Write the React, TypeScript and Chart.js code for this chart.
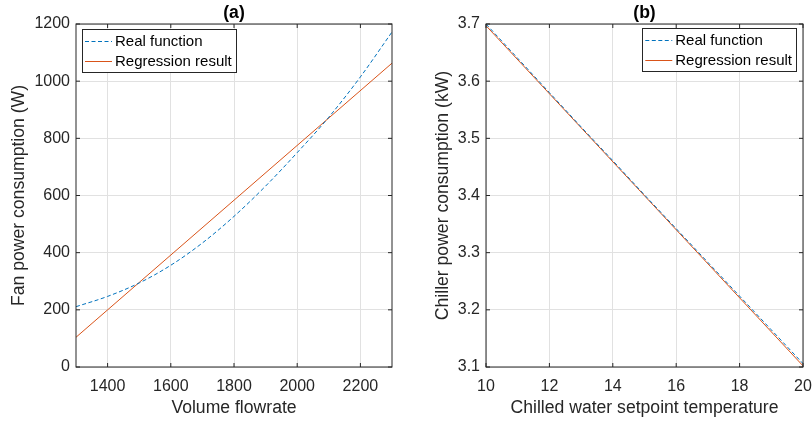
import React, { useEffect, useRef } from "react";
import { Chart, registerables } from "chart.js";

Chart.register(...registerables);

// ---------- data ----------
const FLOW = [1300, 1400, 1500, 1600, 1700, 1800, 1900, 2000, 2100, 2200, 2300];
const FAN_REAL = [211, 247, 294, 356, 434, 527, 633, 750, 874, 1015, 1172];
const FLOW_FIT = [1300, 2300];
const FAN_FIT = [104, 1063];
const FLOW_TICKS = [1400, 1600, 1800, 2000, 2200];
const FAN_TICKS = [0, 200, 400, 600, 800, 1000, 1200];

const TEMP = [10, 11, 12, 13, 14, 15, 16, 17, 18, 19, 20];
const CHILLER_REAL = [3.7, 3.64, 3.58, 3.52, 3.461, 3.401, 3.342, 3.283, 3.224, 3.165, 3.106];
const TEMP_FIT = [10, 20];
const CHILLER_FIT = [3.697, 3.102];
const TEMP_TICKS = [10, 12, 14, 16, 18, 20];
const CHILLER_TICKS = [3.1, 3.2, 3.3, 3.4, 3.5, 3.6, 3.7];

const SERIES_NAMES = ["Real function", "Regression result"];

// ---------- styles ----------
const FONT = "'Liberation Sans', Arial, Helvetica, sans-serif";
const BLUE = "#0072BD";
const ORANGE = "#D95319";
const AXIS = "#262626";
const GRID = "#e1e1e1";
const DASH = [4, 2.5];

const decorPlugin = {
  id: "matlabDecor",
  afterDatasetsDraw(chart: any, _args: any, opts: any) {
    const { ctx, chartArea } = chart;
    const { left, top, right, bottom } = chartArea;
    const xs = chart.scales.x;
    const ys = chart.scales.y;
    ctx.save();
    ctx.strokeStyle = AXIS;
    ctx.lineWidth = 1;
    const tl = 4;
    ctx.beginPath();
    xs.ticks.forEach((t: any) => {
      const px = xs.getPixelForValue(t.value);
      ctx.moveTo(px, bottom);
      ctx.lineTo(px, bottom - tl);
      ctx.moveTo(px, top);
      ctx.lineTo(px, top + tl);
    });
    ys.ticks.forEach((t: any) => {
      const py = ys.getPixelForValue(t.value);
      ctx.moveTo(left, py);
      ctx.lineTo(left + tl, py);
      ctx.moveTo(right, py);
      ctx.lineTo(right - tl, py);
    });
    ctx.stroke();
    ctx.strokeRect(left, top, right - left, bottom - top);

    // title
    ctx.fillStyle = "#000";
    ctx.font = `bold 17.6px ${FONT}`;
    ctx.textAlign = "center";
    ctx.textBaseline = "alphabetic";
    ctx.fillText(opts.title, (left + right) / 2, top - 6);
    ctx.restore();
  },
  afterDraw(chart: any, _args: any, opts: any) {
    const { ctx, chartArea } = chart;
    const { left, top, right } = chartArea;
    ctx.save();
    ctx.font = `15px ${FONT}`;
    const textW = Math.max(...SERIES_NAMES.map((n) => ctx.measureText(n).width));
    const sample = 27;
    const w = 3 + sample + 3 + textW + 4;
    const h = 43;
    const bx = opts.legendAlign === "left" ? left + 6 : right - 7 - w;
    const by = top + opts.legendTop;
    ctx.fillStyle = "#fff";
    ctx.fillRect(bx, by, w, h);
    ctx.strokeStyle = AXIS;
    ctx.lineWidth = 1;
    ctx.strokeRect(Math.round(bx) + 0.5, Math.round(by) + 0.5, Math.round(w), h);
    const rows = [by + 12.5, by + 32.5];
    const colors = [BLUE, ORANGE];
    rows.forEach((ry, i) => {
      ctx.beginPath();
      ctx.strokeStyle = colors[i];
      ctx.lineWidth = 1;
      ctx.setLineDash(i === 0 ? DASH : []);
      ctx.moveTo(bx + 3, ry);
      ctx.lineTo(bx + 3 + sample, ry);
      ctx.stroke();
      ctx.setLineDash([]);
      ctx.fillStyle = "#000";
      ctx.textAlign = "left";
      ctx.textBaseline = "middle";
      ctx.fillText(SERIES_NAMES[i], bx + 3 + sample + 3, ry + 0.5);
    });
    ctx.restore();
  },
};

function makeConfig(p: {
  xs: number[];
  real: number[];
  xfit: number[];
  fit: number[];
  xmin: number;
  xmax: number;
  ymin: number;
  ymax: number;
  xticks: number[];
  yticks: number[];
  xlabel: string;
  ylabel: string;
  title: string;
  legendAlign: string;
  legendTop: number;
  yWidth: number;
  yTitlePad: number;
  rightPad: number;
  yFmt: (v: number) => string;
  smooth: boolean;
}): any {
  return {
    type: "line",
    data: {
      datasets: [
        {
          label: SERIES_NAMES[0],
          data: p.xs.map((x, i) => ({ x, y: p.real[i] })),
          borderColor: BLUE,
          borderWidth: 1,
          borderDash: DASH,
          pointRadius: 0,
          fill: false,
          cubicInterpolationMode: p.smooth ? "monotone" : "default",
        },
        {
          label: SERIES_NAMES[1],
          data: p.xfit.map((x, i) => ({ x, y: p.fit[i] })),
          borderColor: ORANGE,
          borderWidth: 1,
          pointRadius: 0,
          fill: false,
        },
      ],
    },
    options: {
      animation: false,
      responsive: false,
      events: [],
      layout: { padding: { top: 24, right: p.rightPad, bottom: 0, left: 0 } },
      plugins: {
        legend: { display: false },
        tooltip: { enabled: false },
        title: { display: false },
        matlabDecor: { title: p.title, legendAlign: p.legendAlign, legendTop: p.legendTop },
      },
      scales: {
        x: {
          type: "linear",
          min: p.xmin,
          max: p.xmax,
          afterBuildTicks: (s: any) => {
            s.ticks = p.xticks.map((v) => ({ value: v }));
          },
          afterFit: (s: any) => {
            s.height = 55;
            s.paddingLeft = 0;
            s.paddingRight = 0;
          },
          grid: { color: GRID, lineWidth: 1, drawTicks: false },
          border: { display: false },
          ticks: {
            padding: 10,
            color: AXIS,
            font: { family: FONT, size: 16 },
            maxRotation: 0,
            autoSkip: false,
            callback: (v: number) => String(v),
          },
          title: {
            display: true,
            text: p.xlabel,
            color: AXIS,
            font: { family: FONT, size: 17.6 },
            padding: { top: 0, bottom: 3 },
          },
        },
        y: {
          type: "linear",
          min: p.ymin,
          max: p.ymax,
          afterBuildTicks: (s: any) => {
            s.ticks = p.yticks.map((v) => ({ value: v }));
          },
          afterFit: (s: any) => {
            s.width = p.yWidth;
            s.paddingTop = 0;
            s.paddingBottom = 0;
          },
          grid: { color: GRID, lineWidth: 1, drawTicks: false },
          border: { display: false },
          ticks: {
            padding: 6,
            color: AXIS,
            font: { family: FONT, size: 16 },
            autoSkip: false,
            callback: (v: number) => p.yFmt(v),
          },
          title: {
            display: true,
            text: p.ylabel,
            color: AXIS,
            font: { family: FONT, size: 17.6 },
            padding: { top: p.yTitlePad, bottom: 0 },
          },
        },
      },
    },
    plugins: [decorPlugin],
  };
}

function Panel({ config, left }: { config: () => any; left: number }) {
  const ref = useRef<HTMLCanvasElement | null>(null);
  useEffect(() => {
    const c = new Chart(ref.current as HTMLCanvasElement, config());
    return () => c.destroy();
  }, []);
  return (
    <canvas
      ref={ref}
      width={406}
      height={422}
      style={{ position: "absolute", left, top: 0, width: 406, height: 422 }}
    />
  );
}

export default function App() {
  const cfgA = () =>
    makeConfig({
      xs: FLOW,
      real: FAN_REAL,
      xfit: FLOW_FIT,
      fit: FAN_FIT,
      xmin: 1300,
      xmax: 2300,
      ymin: 0,
      ymax: 1200,
      xticks: FLOW_TICKS,
      yticks: FAN_TICKS,
      xlabel: "Volume flowrate",
      ylabel: "Fan power consumption (W)",
      title: "(a)",
      legendAlign: "left",
      legendTop: 5,
      yWidth: 76,
      yTitlePad: 8.4,
      rightPad: 14,
      yFmt: (v) => String(v),
      smooth: true,
    });
  const cfgB = () =>
    makeConfig({
      xs: TEMP,
      real: CHILLER_REAL,
      xfit: TEMP_FIT,
      fit: CHILLER_FIT,
      xmin: 10,
      xmax: 20,
      ymin: 3.1,
      ymax: 3.7,
      xticks: TEMP_TICKS,
      yticks: CHILLER_TICKS,
      xlabel: "Chilled water setpoint temperature",
      ylabel: "Chiller power consumption (kW)",
      title: "(b)",
      legendAlign: "right",
      legendTop: 4,
      yWidth: 80,
      yTitlePad: 27,
      rightPad: 9,
      yFmt: (v) => v.toFixed(1),
      smooth: false,
    });
  return (
    <div
      style={{
        position: "absolute",
        left: 0,
        top: 0,
        width: 812,
        height: 422,
        background: "#fff",
      }}
    >
      <Panel config={cfgA} left={0} />
      <Panel config={cfgB} left={406} />
    </div>
  );
}
